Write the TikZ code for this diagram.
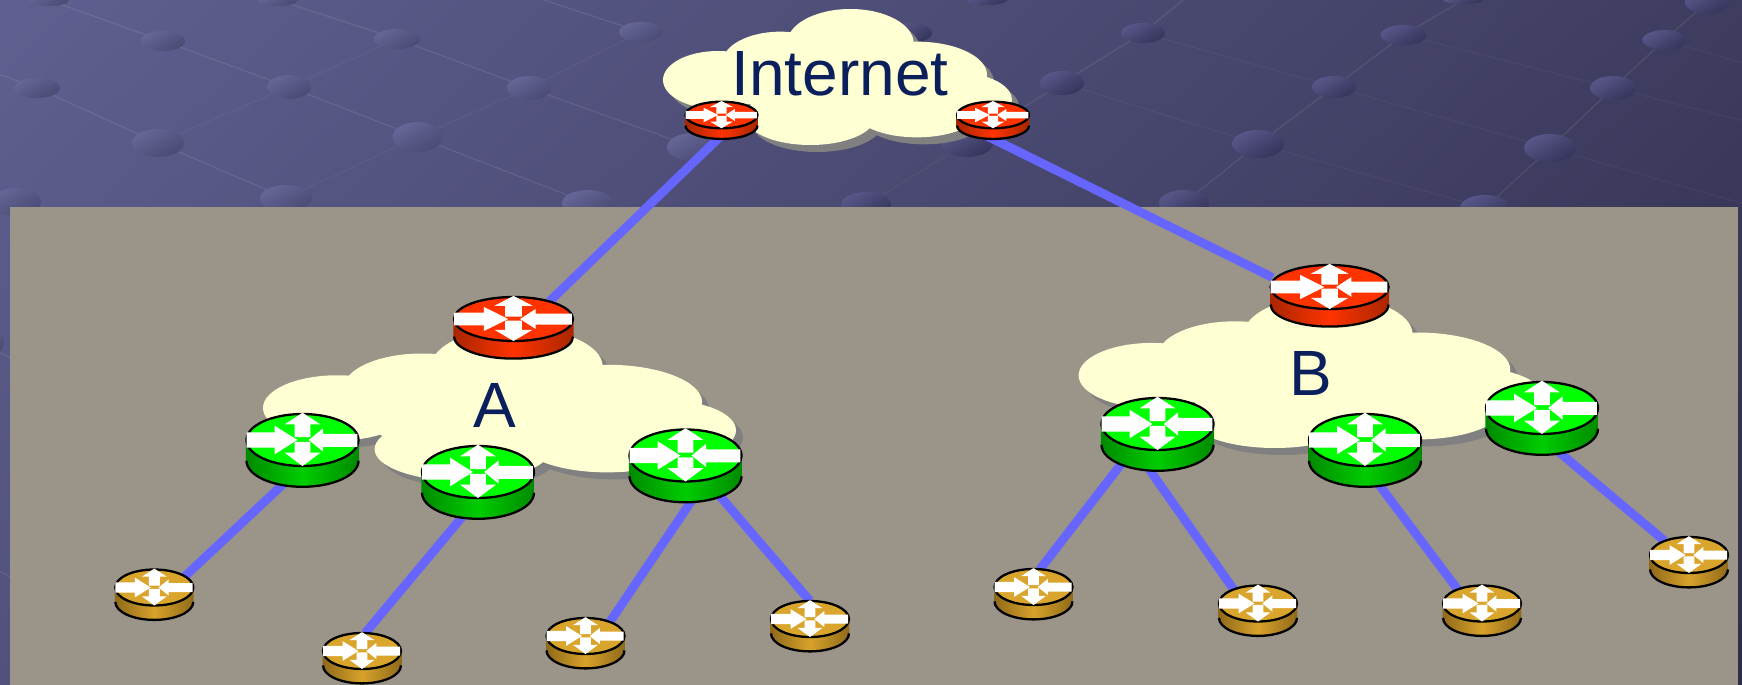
\documentclass[tikz,border=0pt]{standalone}
\usepackage{fontspec}
\setmainfont{Liberation Sans}
\usepackage{tikz}
\usetikzlibrary{shapes.geometric,shadings}

\definecolor{redtop}{HTML}{FF3300}
\definecolor{redmid}{HTML}{FF3300}
\definecolor{rededge}{HTML}{A82600}
\definecolor{greentop}{HTML}{00FF00}
\definecolor{greenmid}{HTML}{00CC00}
\definecolor{greenedge}{HTML}{008A00}
\definecolor{goldtop}{HTML}{DAA52C}
\definecolor{goldmid}{HTML}{D8A22A}
\definecolor{goldedge}{HTML}{8F6A1A}
\definecolor{labelblue}{HTML}{0A1F5C}
\definecolor{linkblue}{HTML}{6666FF}
\definecolor{panelgrey}{HTML}{9B9488}
\definecolor{cloudcream}{HTML}{FFFFD4}
\definecolor{cloudgrey}{HTML}{808080}
\definecolor{bgul}{HTML}{5F6091}
\definecolor{bgur}{HTML}{3E3C5F}
\definecolor{bgll}{HTML}{52517C}
\definecolor{bglr}{HTML}{2E2D4C}
\definecolor{ldottop}{HTML}{666698}
\definecolor{ldotlow}{HTML}{4A4A74}
\definecolor{rdottop}{HTML}{58578A}
\definecolor{rdotlow}{HTML}{35345A}

\newcommand{\dotlist}{a1/49/0/20/6/ldot, a2/163/41/22/10/ldot, a3/289/87/22/12/ldot, a4/417.5/137/25/15/ldot,
    a5/588/203/26/13/ldot, b0/-40/60/20/10/ldot, b1/37/88/23/10/ldot, b2/158/143/26/14/ldot, b3/286/198/26/13/ldot,
    c1/278/0/20/6/ldot, c2/397/39/23/10/ldot, c3/529/88/22/12/ldot, c4/693/147/26/14/ldot, d0/520/-8/20/6/ldot,
    d1/641/32/22/10/ldot, e0/16/202/25/14/ldot, s1/-18/343/22/14/ldot, s2/100/405/20/10/ldot,
    s3/-40/550/20/10/ldot, s4/100/625/20/10/ldot, m1/866/205/25/13/rdot, m2/967/143/26/14/rdot,
    n1/1062/83/22/12/rdot, n2/1143/33/22/10/rdot, n3/1190/-6/20/5/rdot, o1/910/33/22/10/rdot, o2/987/0/20/5/rdot,
    p1/1184/203/25/13/rdot, p2/1258/144/26/14/rdot, p3/1334/87/22/11/rdot, p4/1403.5/35/23/10/rdot, p5/1463/0/20/4/rdot,
    q1/1485/208/25/13/rdot, q2/1550/148/26/14/rdot, q3/1613/88/23/12/rdot, q4/1664.5/40/22/10/rdot, q5/1707/2/22/12/rdot,
    t1/1800/220/20/10/rdot, t2/1800/135/20/10/rdot, t3/1800/80/20/10/rdot}

\tikzset{
    pics/router/.style={code={
        \shade[left color=#1edge, right color=#1edge, middle color=#1mid]
            (-1.01,0) -- (-1.01,.8) arc[start angle=180, end angle=0, x radius=1.01, y radius=1] -- (1.01,0) -- cycle;
        \draw[black, line width=.65pt] (-1,.8) arc[start angle=180, end angle=0, x radius=1, y radius=1];
        \draw[black, fill=#1top, line width=.65pt] (0,0) ellipse [x radius=1, y radius=1];
        % four white arrows on the lid
        \fill[white] (-1,-.29) -- (-.5,-.29) -- (-.5,-.55) -- (-.09,0) -- (-.5,.55) -- (-.5,.29) -- (-1,.29) -- cycle;
        \fill[white] (.98,-.24) -- (.37,-.24) -- (.37,-.45) -- (.11,0) -- (.37,.45) -- (.37,.26) -- (.98,.26) -- cycle;
        \fill[white] (0,-1.05) -- (.32,-.6) -- (.14,-.6) -- (.14,-.11) -- (-.14,-.11) -- (-.14,-.6) -- (-.32,-.6) -- cycle;
        \fill[white] (0,1) -- (.32,.49) -- (.14,.49) -- (.14,.07) -- (-.14,.07) -- (-.14,.49) -- (-.32,.49) -- cycle;
    }},
    pics/netcloud/.style={code={
        \fill[#1] (165,213) ellipse [x radius=165, y radius=87]
            (352,163) ellipse [x radius=175, y radius=95]
            (562,103) ellipse [x radius=190, y radius=103]
            (762,198) ellipse [x radius=210, y radius=100]
            (892,273) ellipse [x radius=155, y radius=80]
            (442,323) ellipse [x radius=195, y radius=85]
            (762,303) ellipse [x radius=190, y radius=82]
            (520,220) ellipse [x radius=300, y radius=130];
    }}
}

\begin{document}
\begin{tikzpicture}[x=0.01cm, y=-0.01cm,
        rnode/.style={ellipse, inner sep=0pt, outer sep=0pt},
        bigred/.style={rnode, minimum width=1.18cm, minimum height=.44cm},
        smallred/.style={rnode, minimum width=.72cm, minimum height=.266cm},
        greenrouter/.style={rnode, minimum width=1.12cm, minimum height=.52cm},
        goldrouter/.style={rnode, minimum width=.78cm, minimum height=.36cm},
        link/.style={draw=linkblue, line width=2.5pt},
        netlabel/.style={text=labelblue, font=\fontsize{18.2}{22}\selectfont, inner sep=0pt},
        ldot/.style={top color=ldottop, bottom color=ldotlow, shading angle=30},
        rdot/.style={top color=rdottop, bottom color=rdotlow, shading angle=30},
        netline/.style={draw=white, opacity=.09, line width=.35pt},
        netfaint/.style={draw=white, opacity=.04, line width=.35pt}]
    \useasboundingbox (0,0) rectangle (1742,685);
    \clip (0,0) rectangle (1742,685);

    % background
    \shade[upper left=bgul, upper right=bgur, lower left=bgll, lower right=bglr]
        (0,0) rectangle (1742,685);
    \foreach \nm/\x/\y/\rx/\ry/\kind in \dotlist
        \coordinate (\nm) at (\x,\y);
    \draw[netline] (a1) -- (a2) -- (a3) -- (a4) -- (a5);
    \draw[netline] (b0) -- (b1) -- (b2) -- (b3);
    \draw[netline] (c1) -- (c2) -- (c3) -- (c4);
    \draw[netline] (d0) -- (d1);
    \draw[netline] (s1) -- (s2);
    \draw[netline] (s3) -- (s4);
    \draw[netfaint] (b3) -- (a4) -- (c3) -- (d1);
    \draw[netfaint] (b2) -- (a3) -- (c2);
    \draw[netfaint] (m1) -- (m2);
    \draw[netline] (m2) -- (n1) -- (n2) -- (n3);
    \draw[netline] (p1) -- (p2) -- (p3) -- (p4) -- (p5);
    \draw[netline] (q1) -- (q2) -- (q3) -- (q4) -- (q5);
    \draw[netfaint] (n2) -- (p3) -- (q2) -- (t1);
    \draw[netfaint] (p4) -- (q3) -- (t2);
    \draw[netfaint] (q4) -- (t3);
    \draw[netfaint] (n1) -- (p2) -- (q1);
    \foreach \nm/\x/\y/\rx/\ry/\kind in \dotlist
        \shade[\kind] (\nm) ellipse [x radius=\rx, y radius=\ry];

    % panel and clouds
    \fill[panelgrey] (10,207) rectangle (1737.5,685);
    \foreach \cx/\cy/\cw/\ch in {663/9/349/136, 263/328/473/153, 1078.6/296/465/152} {
        \pic[xscale=\cw/1047, yscale=\ch/408] at (\cx+7,\cy+7) {netcloud=cloudgrey};
        \pic[xscale=\cw/1047, yscale=\ch/408] at (\cx,\cy) {netcloud=cloudcream};
    }

    \node (inet) [netlabel] at (840,74) {Internet};
    \node (cloudA) [netlabel] at (495,405.7) {A};
    \node (cloudB) [netlabel] at (1311,373) {B};

    \node (r1) [smallred] at (721.5,115) {};
    \node (r2) [smallred] at (993,115) {};
    \node (rA) [bigred] at (513.5,319) {};
    \node (rB) [bigred] at (1329.6,287) {};
    \node (g1) [greenrouter] at (302.5,440) {};
    \node (g2) [greenrouter] at (478,472) {};
    \node (g3) [greenrouter] at (685.5,455.5) {};
    \node (g4) [greenrouter] at (1157.5,424) {};
    \node (g5) [greenrouter] at (1365,440) {};
    \node (g6) [greenrouter] at (1542,408) {};
    \node (l1) [goldrouter] at (154.3,587.5) {};
    \node (l2) [goldrouter] at (362,651) {};
    \node (l3) [goldrouter] at (585.5,636) {};
    \node (l4) [goldrouter] at (810,619) {};
    \node (l5) [goldrouter] at (1033.5,587) {};
    \node (l6) [goldrouter] at (1258,603.5) {};
    \node (l7) [goldrouter] at (1482,603.5) {};
    \node (l8) [goldrouter] at (1689,555) {};

    \draw[link] (r1.-60) -- (rA.26);
    \draw[link] ([xshift=-1pt]r2.195) -- ([xshift=-1pt]rB.170);
    \draw[link] (g1.south) -- (l1.20);
    \draw[link] (g2.south) -- (l2.80);
    \draw[link] (g3.-50) -- (l3.30);
    \draw[link] (g3.-50) -- (l4.north);
    \draw[link] (g4.-135) -- (l5.70);
    \draw[link] (g4.-135) -- (l6.150);
    \draw[link] (g5.south) -- (l7.150);
    \draw[link] (g6.-100) -- (l8.150);

    \foreach \nm/\rx/\ry/\kind in {r1/36/13.3/red, r2/36/13.3/red, rA/59.5/22/red, rB/59/22/red,
        g1/56/26/green, g2/56/26/green, g3/56/26/green, g4/56/26/green, g5/56/26/green, g6/56/26/green,
        l1/39/18/gold, l2/39/18/gold, l3/39/18/gold, l4/39/18/gold, l5/39/18/gold, l6/39/18/gold, l7/39/18/gold, l8/39/18/gold}
        \pic[xscale=\rx, yscale=\ry] at (\nm) {router=\kind};
\end{tikzpicture}
\end{document}
